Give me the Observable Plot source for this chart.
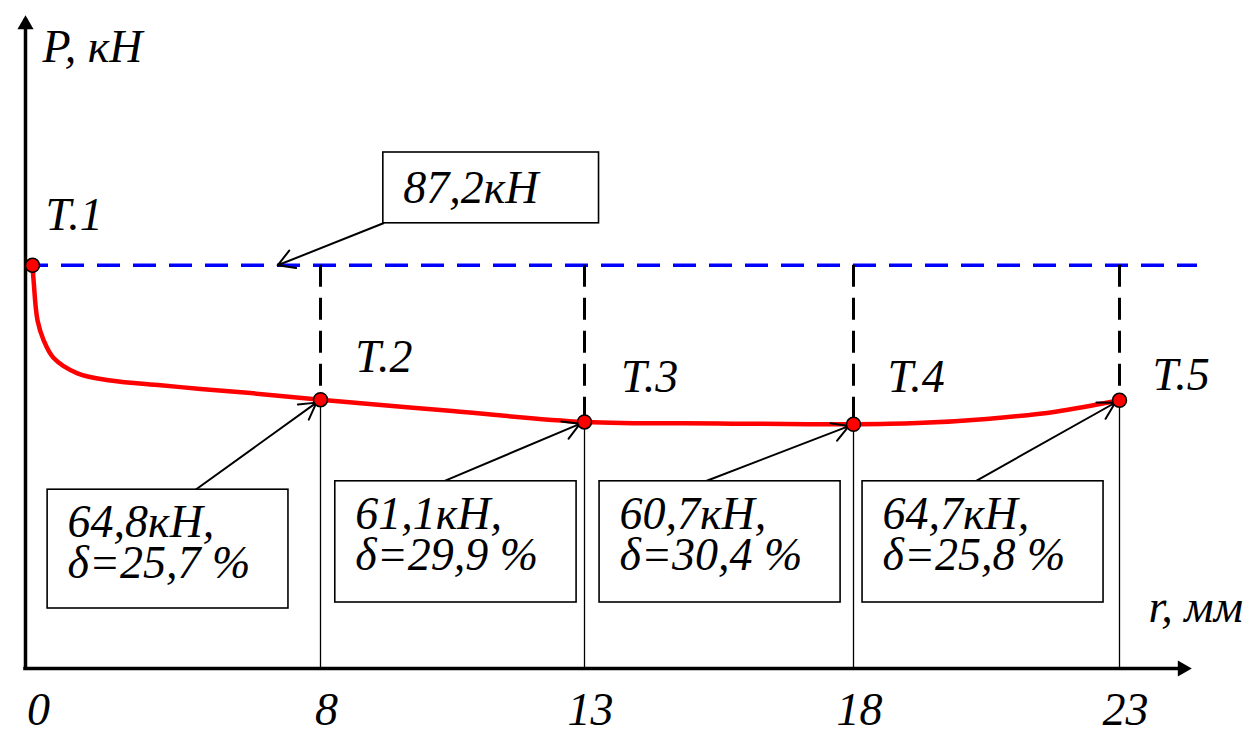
<!DOCTYPE html>
<html>
<head>
<meta charset="utf-8">
<script src="https://cdn.jsdelivr.net/npm/d3@7"></script>
<script src="https://cdn.jsdelivr.net/npm/@observablehq/plot@0.6"></script>
<style>
  html, body { margin: 0; padding: 0; background: #fff; }
</style>
</head>
<body>
<div id="chart"></div>
<script>
// Key points Т.1–Т.5: radius r (mm), load P (kN), drop δ (%) relative to Т.1
const pointNames = ["Т.1", "Т.2", "Т.3", "Т.4", "Т.5"];
const pointR = [0, 8, 13, 18, 23];
const pointP = [87.2, 64.8, 61.1, 60.7, 64.7];
const pointDelta = [null, 25.7, 29.9, 30.4, 25.8];
// Initial load level (dashed line)
const limitP = 87.2;
// Intermediate readings of the load curve between the key points
const curveR = [0.03, 0.14, 0.31, 0.58, 1.25, 2.17, 3.56, 4.67, 6.06, 10.5, 15.5, 19.2, 20.5, 21.8];
const curveP = [84.7, 78.0, 74.7, 71.8, 69.2, 68.0, 67.2, 66.6, 65.9, 62.9, 60.85, 60.9, 61.6, 62.8];
// Tick labels on the r axis
const tickR = [0, 8, 13, 18, 23];

// ---- layout ----
const W = 1253, H = 734;
const yMin = 20, yMax = 128;
const xRange = [32, 320, 584, 853, 1119];          // piecewise r axis
const FONT = "Liberation Serif";
const FS = 46;
// label anchors (r, P) for Т.i
const labelAt = [[0.36, 95.5], [8.66, 71.8], [13.68, 68.5], [18.64, 68.5], [23.62, 68.8]];
// callout boxes: [r1, r2, Ptop, Pbottom, r of arrow start]
const boxAt = [null,
  [0.42, 7.11, 49.8, 30.0, 4.53],
  [8.28, 12.85, 51.2, 31.0, 10.33],
  [13.28, 17.76, 51.2, 31.0, 15.25],
  [18.17, 22.70, 51.2, 31.0, 20.29]];
// callout for the initial load: [r1, r2, Ptop, Pbottom, r of arrow tip]
const limitBox = [9.19, 13.27, 106.0, 94.2, 6.81];

const fmt = v => v.toFixed(1).replace(".", ",");

const points = pointR.map((r, i) => ({
  name: pointNames[i], r, P: pointP[i], delta: pointDelta[i],
  lr: labelAt[i][0], lp: labelAt[i][1]
}));
const curve = points.map(d => ({r: d.r, P: d.P}))
  .concat(curveR.map((r, i) => ({r, P: curveP[i]})))
  .sort((a, b) => a.r - b.r);
const later = points.slice(1);
const boxes = later.map((d, i) => {
  const b = boxAt[i + 1];
  return {...d, x1: b[0], x2: b[1], top: b[2], bottom: b[3], ax: b[4],
    text: `${fmt(d.P)}кН,\nδ=${fmt(d.delta)} %`};
});
const limitNote = [{x1: limitBox[0], x2: limitBox[1], top: limitBox[2], bottom: limitBox[3],
  tip: limitBox[4], text: `${fmt(limitP)}кН`}];

const chart = Plot.plot({
  width: W,
  height: H,
  marginLeft: 25,
  marginRight: 62,
  marginTop: 20,
  marginBottom: 66,
  style: {background: "#fff", fontFamily: FONT},
  x: {type: "linear", domain: tickR, range: xRange, axis: null},
  y: {type: "linear", domain: [yMin, yMax], axis: null},
  marks: [
    // initial load level
    Plot.ruleY([limitP], {stroke: "#0000ff", strokeWidth: 3.5, strokeDasharray: "23,13", insetRight: -6}),
    // drops from the initial level to each point
    Plot.ruleX(later, {x: "r", y1: limitP, y2: "P", stroke: "#000", strokeWidth: 3, strokeDasharray: "22,11"}),
    // projections of the points on the r axis
    Plot.ruleX(later, {x: "r", y1: "P", y2: yMin, stroke: "#000", strokeWidth: 1.3}),
    // axes with arrowheads
    Plot.ruleX([0], {dx: -7, stroke: "#000", strokeWidth: 3.5, strokeLinecap: "square"}),
    Plot.ruleY([yMin], {stroke: "#000", strokeWidth: 3.5, insetRight: 10, strokeLinecap: "square"}),
    Plot.dot([0], {frameAnchor: "top-left", dy: 4, symbol: "triangle", r: 6, fill: "#000", stroke: "none"}),
    Plot.dot([0], {frameAnchor: "bottom-right", dx: -9, symbol: "triangle", rotate: 90, r: 6, fill: "#000", stroke: "none"}),
    // load curve
    Plot.line(curve, {x: "r", y: "P", stroke: "#ff0000", strokeWidth: 4.5, curve: "catmull-rom"}),
    // callout arrows
    Plot.arrow(boxes, {x1: "ax", y1: "top", x2: "r", y2: "P", stroke: "#000", strokeWidth: 2, headLength: 14, insetEnd: 5}),
    Plot.arrow(limitNote, {x1: "x1", y1: "bottom", x2: "tip", y2: limitP, stroke: "#000", strokeWidth: 2, headLength: 14}),
    // callout boxes
    Plot.rect(boxes, {x1: "x1", x2: "x2", y1: "top", y2: "bottom", fill: "#fff", stroke: "#000", strokeWidth: 1.6}),
    Plot.rect(limitNote, {x1: "x1", x2: "x2", y1: "top", y2: "bottom", fill: "#fff", stroke: "#000", strokeWidth: 1.6}),
    Plot.text(boxes, {x: "x1", y: "top", text: "text", dx: 20, dy: 19, textAnchor: "start", lineAnchor: "top",
      lineHeight: 0.88, fontSize: FS, fontStyle: "italic", fill: "#000"}),
    Plot.text(limitNote, {x: "x1", y: "top", text: "text", dx: 20, dy: 18, textAnchor: "start", lineAnchor: "top",
      fontSize: FS, fontStyle: "italic", fill: "#000"}),
    // key points
    Plot.dot(points, {x: "r", y: "P", r: 7, fill: "#ff0000", stroke: "#000", strokeWidth: 1.5}),
    Plot.text(points, {x: "lr", y: "lp", text: "name", textAnchor: "start", lineAnchor: "middle",
      fontSize: FS, fontStyle: "italic", fill: "#000"}),
    // r axis tick labels
    Plot.text(tickR, {x: d => d, text: d => String(d), frameAnchor: "bottom", dy: 56, dx: 6,
      lineAnchor: "bottom", fontSize: FS, fontStyle: "italic", fill: "#000"}),
    // axis titles
    Plot.text(["P, кН"], {frameAnchor: "top-left", dx: 17, dy: 27, textAnchor: "start", lineAnchor: "middle",
      fontSize: FS, fontStyle: "italic", fill: "#000"}),
    Plot.text(["r, мм"], {frameAnchor: "bottom-right", dx: -43, dy: -61, textAnchor: "start", lineAnchor: "middle",
      fontSize: FS, fontStyle: "italic", fill: "#000"})
  ]
});
document.getElementById("chart").append(chart);
</script>
</body>
</html>
